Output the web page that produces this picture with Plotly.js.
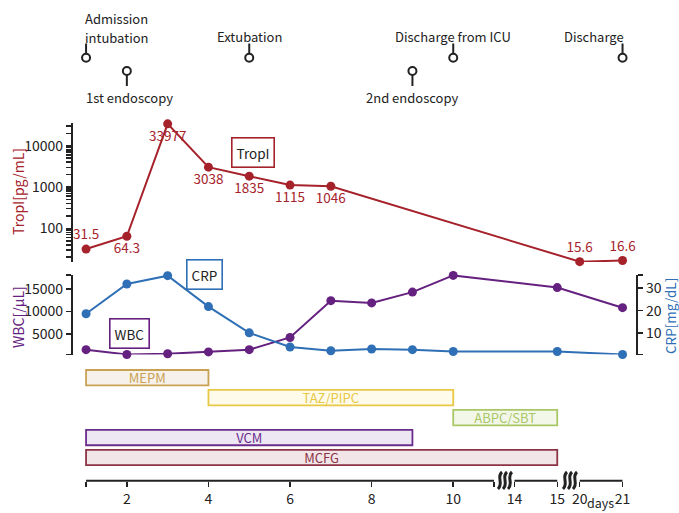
<!DOCTYPE html>
<html><head><meta charset="utf-8">
<script src="https://cdn.plot.ly/plotly-3.0.1.min.js"></script>
<style>html,body{margin:0;padding:0;background:#fff}#chart{width:679px;height:513px}</style>
</head><body><div id="chart"></div>
<script>
// ---- data ----
const tropDays = [1, 2, 3, 4, 5, 6, 7, 20, 21];
const tropVals = [31.5, 64.3, 33977, 3038, 1835, 1115, 1046, 15.6, 16.6];
const tropLabelPos = ['top center','bottom center','bottom center','bottom center','bottom center','bottom center','bottom center','top center','top center'];
const labDays = [1, 2, 3, 4, 5, 6, 7, 8, 9, 10, 15, 21];
const wbcVals = [1550, 480, 650, 1050, 1550, 4250, 12400, 11900, 14300, 18000, 15300, 10850];
const crpVals = [18.6, 31.9, 35.6, 21.8, 10.1, 3.8, 2.1, 2.9, 2.6, 1.8, 1.8, 0.45];
const drugNames = ['MEPM', 'TAZ/PIPC', 'ABPC/SBT', 'VCM', 'MCFG'];
const drugStart = [1, 4, 10, 1, 1];
const drugEnd = [4, 10, 15, 9, 15];
const eventNames = [['Admission', 'intubation'], ['1st endoscopy'], ['Extubation'], ['2nd endoscopy'], ['Discharge from ICU'], ['Discharge']];
const eventDays = [1, 2, 5, 9, 10, 21];
const eventRow = [0, 1, 0, 1, 0, 0];
const dayTicks = [2, 4, 6, 8, 10, 14, 15, 20, 21];

// ---- styles ----
const RED = '#a6222b', PURPLE = '#65217f', BLUE = '#2e6fb5', INK = '#222222';
const drugLine = ['#c9a152', '#e8c845', '#a9c764', '#6b2c8d', '#8c3345'];
const drugFill = ['#f6f1ea', '#fefbea', '#f3f7ea', '#ede7f3', '#f2e5e8'];
const FONT = 'Noto Sans CJK JP, Noto Sans, sans-serif';
const W = 679, H = 513, L = 73, R = 43;

// broken time axis: map day -> axis position
function pos(d) {
  if (d <= 11) return d;
  if (d <= 15) return 11.5 + (d - 14) * 1.05;
  return 13.1 + (d - 20) * 1.05;
}
const py = p => 1 - p / H;              // pixel row -> paper y
const pxX = p => (p - L) / (W - L - R); // pixel col -> paper x

const traces = [];
traces.push({
  x: tropDays.map(pos), y: tropVals, type: 'scatter', mode: 'lines+markers+text',
  xaxis: 'x', yaxis: 'y', cliponaxis: false,
  line: {color: RED, width: 2}, marker: {color: RED, size: 9},
  text: tropVals.map(String), textposition: tropLabelPos,
  textfont: {color: RED, size: 13.5, family: FONT}, hoverinfo: 'skip'
});
traces.push({
  x: labDays.map(pos), y: wbcVals, type: 'scatter', mode: 'lines+markers',
  xaxis: 'x', yaxis: 'y2', cliponaxis: false,
  line: {color: PURPLE, width: 2}, marker: {color: PURPLE, size: 9}
});
traces.push({
  x: labDays.map(pos), y: crpVals, type: 'scatter', mode: 'lines+markers',
  xaxis: 'x', yaxis: 'y3', cliponaxis: false,
  line: {color: BLUE, width: 2}, marker: {color: BLUE, size: 9}
});
traces.push({
  type: 'bar', orientation: 'h', xaxis: 'x', yaxis: 'y4',
  y: drugNames.map((_, i) => i),
  base: drugStart.map(pos),
  x: drugStart.map((s, i) => pos(drugEnd[i]) - pos(s)),
  width: 0.77,
  marker: {color: drugFill, line: {color: drugLine, width: 1.8}},
  text: drugNames, textposition: 'inside', insidetextanchor: 'middle',
  constraintext: 'none', textangle: 0,
  textfont: {color: drugLine, size: 13, family: FONT}, hoverinfo: 'skip'
});
const circleY = [57.7, 71];
traces.push({
  x: eventDays.map(pos), y: eventRow.map(r => circleY[r]), type: 'scatter', mode: 'markers',
  xaxis: 'x', yaxis: 'y5', cliponaxis: false,
  marker: {symbol: 'circle-open', size: 8, color: INK, line: {width: 2, color: INK}}
});

// ---- shapes ----
const shapes = [];
eventDays.forEach((d, i) => {
  const r = eventRow[i];
  shapes.push({type: 'line', xref: 'x', yref: 'y5', x0: pos(d), x1: pos(d),
    y0: r === 0 ? 43.5 : 75, y1: r === 0 ? 53.5 : 86, line: {color: INK, width: 2}});
});
const axisY = py(480.7);
[[1, 11], [14, 15], [20, 21]].forEach(([a, b]) => {
  const x0 = a === 1 ? 1 : pos(a), x1 = b === 11 ? 11 : pos(b);
  shapes.push({type: 'line', xref: 'x', yref: 'paper', x0: x0, x1: x1, y0: axisY, y1: axisY,
    line: {color: INK, width: 2}});
});
// axis-break squiggles
function squiggle(x0) {
  const y0 = 472, y1 = 489;
  const p = (x, y) => pxX(x).toFixed(5) + ',' + py(y).toFixed(5);
  return 'M' + p(x0 + 4, y0) + ' C' + p(x0 - 2, y0 + 5) + ' ' + p(x0 + 6, y1 - 6) + ' ' + p(x0, y1);
}
[498, 503, 508, 563, 568, 573].forEach(x => {
  shapes.push({type: 'path', xref: 'paper', yref: 'paper', path: squiggle(x), line: {color: INK, width: 3}});
});

// ---- annotations ----
const ann = [];
const eventAnchor = ['left', 'center', 'center', 'center', 'center', 'right'];
const eventShift = [-2, 3, 0, 0, 0, 2];
eventDays.forEach((d, i) => {
  const r = eventRow[i];
  const lines = eventNames[i];
  lines.forEach((txt, k) => {
    const yBase = r === 0 ? (lines.length > 1 ? 37.5 : 36.7) - (lines.length - 1 - k) * 19.5 : 97;
    ann.push({xref: 'x', yref: 'y5', x: pos(d), y: yBase,
      text: txt, showarrow: false, xanchor: eventAnchor[i], yanchor: 'middle',
      xshift: eventShift[i], borderpad: 0, font: {size: 13, color: INK, family: FONT}});
  });
});
function box(text, xpx, ypx, color) {
  return {xref: 'paper', yref: 'paper', x: pxX(xpx), y: py(ypx), text: text, showarrow: false,
    xanchor: 'center', yanchor: 'middle', bordercolor: color, borderwidth: 1.6, borderpad: 4,
    bgcolor: '#fff', font: {size: 13.5, color: INK, family: FONT}};
}
ann.push(box('TropI', 252.5, 152.5, RED));
ann.push(box('CRP', 204.5, 274.5, BLUE));
ann.push(box('WBC', 129.5, 333.7, PURPLE));
function vtitle(text, xpx, ypx, color, size) {
  return {xref: 'paper', yref: 'paper', x: pxX(xpx), y: py(ypx), text: text, showarrow: false,
    textangle: -90, xanchor: 'center', yanchor: 'middle', borderpad: 0,
    font: {size: size, color: color, family: FONT}};
}
ann.push(vtitle('TropI[pg/mL]', 18, 192, RED, 14));
ann.push(vtitle('WBC[/μL]', 18, 317, PURPLE, 14));
ann.push(vtitle('CRP[mg/dL]', 670, 316, BLUE, 13.5));
ann.push({xref: 'paper', yref: 'paper', x: pxX(600), y: 0, xanchor: 'center', yanchor: 'bottom',
  text: 'days', showarrow: false, borderpad: 0, font: {size: 12.5, color: INK, family: FONT}});

// ---- axes ----
const tropTicks = [];
for (let dec = 10; dec <= 10000; dec *= 10) for (let k = 1; k <= 9; k++) {
  const v = dec * k; if (v >= 20 && v <= 30000) tropTicks.push(v);
}
const tropText = tropTicks.map(v => [100, 1000, 10000].includes(v) ? String(v) : '');
const xTickVals = [1].concat(dayTicks.slice(0, 5), [11], dayTicks.slice(5).map(pos));
const xTickText = [''].concat(dayTicks.slice(0, 5).map(String), [''], dayTicks.slice(5).map(String));

const yCommon = {showgrid: false, zeroline: false, showline: true, linecolor: INK, linewidth: 2.2,
  ticks: 'outside', ticklen: 5, tickwidth: 1.5, tickcolor: INK,
  tickfont: {size: 14, color: INK, family: FONT}, anchor: 'x', fixedrange: true};

const layout = {
  width: W, height: H, margin: {l: L, r: R, t: 0, b: 0},
  paper_bgcolor: '#fff', plot_bgcolor: 'rgba(0,0,0,0)', showlegend: false,
  font: {family: FONT, color: INK, size: 14},
  xaxis: {range: [0.68, 14.48], domain: [0, 1], anchor: 'free', position: axisY,
    showline: false, showgrid: false, zeroline: false, ticks: 'outside', ticklen: 5, tickwidth: 1.5,
    tickcolor: INK, tickvals: xTickVals, ticktext: xTickText,
    tickfont: {size: 14, color: INK, family: FONT}, fixedrange: true},
  yaxis: Object.assign({}, yCommon, {type: 'log', range: [1.185, 4.544], domain: [py(262), py(123.3)],
    tickmode: 'array', tickvals: tropTicks, ticktext: tropText}),
  yaxis2: Object.assign({}, yCommon, {range: [450, 18090], domain: [py(354.6), py(275)],
    tickmode: 'array', tickvals: [470, 5000, 10000, 15000, 18070], ticktext: ['', '5000', '10000', '15000', '']}),
  yaxis3: Object.assign({}, yCommon, {range: [0.4, 35.9], overlaying: 'y2', side: 'right',
    tickmode: 'array', tickvals: [0.45, 10, 20, 30, 35.85], ticktext: ['', '10', '20', '30', '']}),
  yaxis4: {visible: false, range: [4.5, -0.5], domain: [py(467.5), py(367.7)], anchor: 'x', fixedrange: true},
  yaxis5: {visible: false, range: [110, 0], domain: [py(110), 1], anchor: 'x', fixedrange: true},
  shapes: shapes, annotations: ann
};

Plotly.newPlot('chart', traces, layout, {displayModeBar: false, staticPlot: true});
</script></body></html>
